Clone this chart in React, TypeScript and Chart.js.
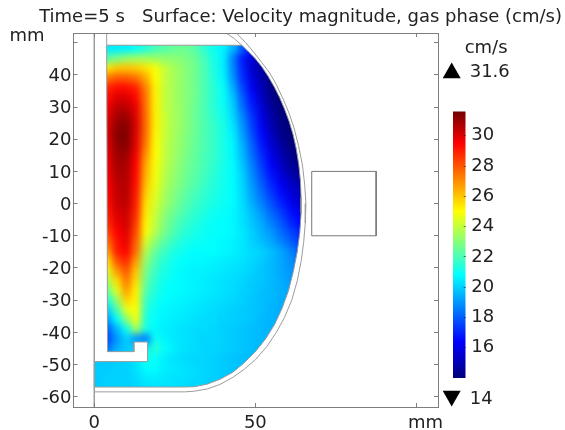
import React, { useEffect, useRef } from "react";
import { Chart, registerables } from "chart.js";

Chart.register(...registerables);

const _ = null;
const titleText = "Time=5 s   Surface: Velocity magnitude, gas phase (cm/s)";
const FONT = "'DejaVu Sans', sans-serif";
const INK = "#222";
const FRAME = "#7d7d7d";
const WALL = "#9c9c9c";

const xTicks = [0, 50, 100];
const yTicks = [50, 40, 30, 20, 10, 0, -10, -20, -30, -40, -50, -60];
const hiddenXLabels = [100];
const hiddenYLabels = [50];
const barTicks = [16, 18, 20, 22, 24, 26, 28, 30];

const heatX = [1, 4, 7, 10, 13, 16, 19, 22, 25, 28, 31, 34, 37, 40, 43, 46, 49, 52, 55, 58, 61, 64];
const heatY = [48, 45, 42, 39, 36, 33, 30, 27, 24, 21, 18, 15, 12, 9, 6, 3, 0, -3, -6, -9, -12, -15, -18, -21, -24, -27, -30, -33, -36, -39, -42, -45, -48, -51, -54, -57];
const heatRows: (number | null)[][] = [
  [_, 20.5, 20.5, 20.6, 20.9, 21.4, 21.9, 22.2, 22.5, 22.6, 22.3, 21.6, 21, 20.6, 19.6, 18, 16.5, 15],
  [_, 22.3, 22.9, 23.3, 23.5, 23.5, 23.4, 23.2, 23.1, 22.9, 22.6, 22, 21.2, 20.6, 18.6, 16.8, 15.5, 14.8, 14.2],
  [_, 25.4, 26, 26.1, 25.9, 25.5, 24.9, 24, 23.5, 23.1, 22.7, 22.1, 21.3, 20.6, 18.8, 17, 15.5, 14.7, 14.1, 14],
  [_, 27.4, 27.9, 27.9, 27.5, 26.5, 25, 24, 23.5, 23.1, 22.7, 22.1, 21.4, 20.7, 19, 17.2, 15.8, 14.8, 14.2, 14, 14],
  [_, 28.8, 29.3, 29.3, 28.9, 27.2, 25.2, 24, 23.5, 23.1, 22.7, 22.1, 21.5, 20.9, 19.4, 17.6, 16.2, 15, 14.2, 14, 14],
  [_, 29.3, 30, 30, 29.4, 27.4, 25.2, 24, 23.5, 23.1, 22.7, 22.1, 21.5, 20.9, 19.8, 18, 16.6, 15.3, 14.3, 14, 14, 14],
  [_, 29.6, 30.5, 30.5, 29.8, 27.5, 25.2, 24, 23.5, 23.1, 22.6, 22.1, 21.5, 21, 20, 18.3, 16.9, 15.6, 14.5, 14, 14, 14],
  [_, 29.8, 30.9, 31, 30, 27.6, 25.2, 24.1, 23.5, 23.1, 22.6, 22.1, 21.6, 21.1, 20.2, 18.7, 17.3, 15.9, 14.8, 14.1, 14, 14],
  [_, 30, 31.2, 31.3, 30.1, 27.6, 25.2, 24.1, 23.5, 23.1, 22.6, 22.1, 21.7, 21.2, 20.4, 19, 17.5, 16.2, 15, 14.2, 14, 14],
  [_, 30, 31.3, 31.4, 30, 27.5, 25.1, 24.1, 23.5, 23, 22.6, 22.1, 21.7, 21.2, 20.6, 19.2, 17.8, 16.5, 15.3, 14.4, 14, 14],
  [_, 29.9, 31.2, 31.3, 29.9, 27.3, 25, 24, 23.4, 23, 22.5, 22.1, 21.7, 21.2, 20.7, 19.5, 18.1, 16.8, 15.6, 14.7, 14.1, 14],
  [_, 29.8, 31, 31, 29.7, 26.9, 25, 24, 23.4, 22.9, 22.5, 22, 21.7, 21.2, 20.7, 19.6, 18.3, 17.1, 16, 15, 14.3, 14],
  [_, 29.7, 30.8, 30.8, 29.5, 26.5, 24.9, 23.9, 23.3, 22.8, 22.4, 22, 21.6, 21.2, 20.8, 19.8, 18.6, 17.4, 16.3, 15.3, 14.5, 14.2],
  [_, 29.6, 30.7, 30.7, 29.4, 26.3, 24.8, 23.8, 23.2, 22.7, 22.3, 21.9, 21.5, 21.1, 20.8, 20, 18.8, 17.7, 16.7, 15.7, 14.9, 14.5],
  [_, 29.5, 30.5, 30.6, 29.3, 26.1, 24.7, 23.7, 23.1, 22.6, 22.2, 21.8, 21.4, 21.1, 20.8, 20.1, 19, 18, 17, 16.2, 15.3, 14.8],
  [_, 29.4, 30.4, 30.6, 29.1, 25.8, 24.5, 23.5, 22.9, 22.4, 22, 21.6, 21.3, 21, 20.8, 20.2, 19.2, 18.3, 17.4, 16.6, 15.8, 15.1],
  [_, 29.3, 30.3, 30.5, 29, 25.5, 24.3, 23.4, 22.8, 22.2, 21.8, 21.5, 21.2, 21, 20.8, 20.2, 19.4, 18.6, 17.8, 17, 16.2, 15.5],
  [_, 29, 30.1, 30.3, 28.8, 25.3, 24.1, 23.1, 22.5, 22, 21.6, 21.3, 21, 20.9, 20.7, 20.3, 19.7, 19, 18.2, 17.5, 16.7, 16],
  [_, 28.7, 29.8, 30.2, 28.5, 25.1, 23.9, 22.9, 22.2, 21.7, 21.4, 21.1, 20.9, 20.8, 20.7, 20.3, 19.8, 19.3, 18.6, 17.9, 17.1, 16.5],
  [_, 28.2, 29.5, 30, 28.2, 24.9, 23.7, 22.7, 22, 21.5, 21.2, 21, 20.9, 20.8, 20.7, 20.4, 20, 19.5, 19, 18.3, 17.6, 17],
  [_, 27.4, 29.2, 29.8, 27.8, 24.3, 23, 22.2, 21.6, 21.2, 21, 20.9, 20.8, 20.7, 20.6, 20.4, 20, 19.7, 19.3, 18.7, 18.1, 17.4],
  [_, 26.5, 29, 29.5, 27.5, 23.7, 22.4, 21.7, 21.2, 21, 20.8, 20.8, 20.8, 20.7, 20.6, 20.4, 20.2, 20, 19.7, 19.3, 18.7, 18],
  [_, 25.5, 28, 28.8, 26.7, 23.2, 22, 21.4, 21, 20.8, 20.7, 20.7, 20.6, 20.5, 20.4, 20.3, 20.1, 19.9, 19.6, 19.3, 18.9, 18.4],
  [_, 24.5, 26.8, 28, 26, 22.8, 21.7, 21.2, 20.9, 20.7, 20.6, 20.6, 20.5, 20.4, 20.3, 20.2, 20, 19.8, 19.6, 19.3, 19, 18.6],
  [_, 23.5, 25.6, 27.4, 25.6, 22.5, 21.5, 21, 20.8, 20.7, 20.6, 20.5, 20.4, 20.3, 20.2, 20.1, 19.9, 19.8, 19.6, 19.4, 19.1, 18.8],
  [_, 22.5, 24.5, 26.8, 25.2, 22.2, 21.3, 20.9, 20.8, 20.7, 20.6, 20.5, 20.4, 20.3, 20.2, 20, 19.9, 19.7, 19.6, 19.4, 19.3, 19],
  [_, 21.2, 23.3, 25.8, 25.2, 21.8, 21.1, 20.8, 20.7, 20.6, 20.5, 20.4, 20.3, 20.2, 20.1, 20, 19.8, 19.7, 19.6, 19.4, 19.3, 19.1],
  [_, 20, 22, 24.5, 25, 21.5, 20.9, 20.7, 20.6, 20.5, 20.4, 20.3, 20.2, 20.1, 20, 19.9, 19.8, 19.7, 19.5, 19.4, 19.3],
  [_, 19, 20.8, 23, 24.8, 21.3, 20.8, 20.6, 20.5, 20.4, 20.3, 20.2, 20.2, 20, 20, 19.9, 19.8, 19.6, 19.5, 19.4],
  [_, 18, 19.5, 21, 23.5, 21.2, 20.7, 20.5, 20.4, 20.3, 20.2, 20.2, 20.1, 20, 19.9, 19.8, 19.7, 19.6, 19.5, 19.4],
  [_, 17.6, 19, 20, 19, 18.5, 21, 20.6, 20.4, 20.3, 20.2, 20.1, 20.1, 20, 19.9, 19.8, 19.7, 19.6, 19.5, 19.4],
  [_, 18.3, 19.4, 19.9, 20, 20.5, 21.5, 20.8, 20.5, 20.3, 20.2, 20.1, 20.1, 20, 19.9, 19.8, 19.7, 19.6, 19.5],
  [19.9, 19.9, 19.9, 20, 20.4, 21.2, 20.9, 20.5, 20.3, 20.2, 20.1, 20.1, 20, 19.9, 19.8, 19.7, 19.6, 19.5],
  [19.9, 19.9, 20, 20, 20.3, 20.8, 20.8, 20.5, 20.4, 20.3, 20.2, 20.1, 20, 19.9, 19.8, 19.8, 19.7],
  [19.9, 20, 20, 20, 20.2, 20.5, 20.5, 20.4, 20.3, 20.3, 20.2, 20.1, 20, 19.9, 19.8, 19.8],
  [19.9, 20, 20, 20, 20.1, 20.3, 20.3, 20.3, 20.3, 20.2, 20.1, 20, 19.9, 19.8, 19.8],
];

const domainX = [3.84, 45.8, 48, 50, 52, 54, 56, 57.5, 59, 60.5, 61.7, 62.7, 63.5, 64, 64.2, 64.2, 63.8, 63, 61.8, 60.3, 58.3, 56, 53.2, 50, 46.5, 43, 39, 35, 31, 28, 0, 0, 16.5, 16.5, 12.3, 12.3, 4.1, 3.84];
const domainY = [49.2, 49.2, 47, 45, 42.5, 39.5, 36, 33, 29.5, 25.5, 21.5, 17, 12, 7, 2, -3, -9, -15, -21, -27, -32.5, -37.5, -42, -46, -49.5, -52.4, -54.6, -56.1, -56.9, -57, -57, -49.1, -49.1, -43, -43, -46, -46, 49.2];
const shellX = [42, 44.2, 47, 49.5, 52, 54.5, 56.5, 58.6, 60.5, 62, 63.4, 64.6, 65.3, 65.7, 65.5, 65, 64.2, 63, 61.3, 59, 56.5, 53.5, 50, 46.5, 43, 39, 35, 31, 28, 0];
const shellY = [55, 52.9, 50, 47, 43.8, 40.5, 37, 32.5, 28, 23.5, 18, 12, 6, 0, -6, -12, -18, -24, -30, -35.5, -40, -44.5, -48.5, -51.5, -54, -56.2, -57.6, -58.3, -58.5, -58.5];
const innerTopX = [45.8, 43.5, 41.1, 39];
const innerTopY = [49.2, 51.2, 52.9, 54.3];
const axisWallX = [0, 0];
const axisWallY = [56, -65];
const tubeTopX = [3.84, 3.84];
const tubeTopY = [49.2, 56];
const boxX = [67.5, 87.5, 87.5, 67.5, 67.5];
const boxY = [10, 10, -10, -10, 10];

const minValue = 14;
const maxValue = 31.6;
const stopValues = [14, 14.8, 16.4, 20.8, 25, 29.5, 31.6];
const stopColors = [[0, 0, 120], [0, 0, 170], [0, 0, 255], [0, 255, 255], [255, 255, 0], [255, 0, 0], [115, 0, 0]];
const barX = [0.753, 0.753];
const barY = [minValue, maxValue];
const markerX = [0.455];
const maxMarkerY = [34.15];
const minMarkerY = [12.81];

function colorFor(v: number) {
  let i = 0;
  while (i < stopValues.length - 2 && v > stopValues[i + 1]) i++;
  const t = Math.min(1, Math.max(0, (v - stopValues[i]) / (stopValues[i + 1] - stopValues[i])));
  const c = stopColors[i].map((a, k) => Math.round(a + (stopColors[i + 1][k] - a) * t));
  return `rgb(${c[0]},${c[1]},${c[2]})`;
}

const pairs = (xs: number[], ys: number[]) => xs.map((x, i) => ({ x, y: ys[i] }));
const wall = (xs: number[], ys: number[], color = WALL) => ({
  type: "scatter" as const,
  data: pairs(xs, ys),
  showLine: true,
  borderColor: color,
  borderWidth: 1,
  pointRadius: 0,
  order: 1,
});

const heatCells: { x: number; y: number; v: number }[] = [];
heatRows.forEach((row, r) =>
  row.forEach((v, c) => {
    if (v !== null) heatCells.push({ x: heatX[c], y: heatY[r], v });
  })
);

const heatBlendPlugin = {
  id: "heatBlend",
  afterDatasetDraw(chart: any, args: any) {
    if (args.index !== 0) return;
    const { ctx, canvas, chartArea, scales } = chart;
    const off = document.createElement("canvas");
    off.width = canvas.width;
    off.height = canvas.height;
    off.getContext("2d")!.drawImage(canvas, 0, 0);
    ctx.save();
    ctx.clearRect(chartArea.left, chartArea.top, chartArea.width, chartArea.height);
    ctx.beginPath();
    domainX.forEach((x, i) => {
      const px = scales.x.getPixelForValue(x);
      const py = scales.y.getPixelForValue(domainY[i]);
      if (i === 0) ctx.moveTo(px, py);
      else ctx.lineTo(px, py);
    });
    ctx.closePath();
    ctx.clip();
    ctx.drawImage(off, 0, 0);
    ctx.filter = "blur(3.5px)";
    ctx.drawImage(off, 0, 0);
    ctx.restore();
  },
};

const axisTextPlugin = {
  id: "axisText",
  afterDraw(chart: any) {
    const { ctx, scales } = chart;
    ctx.save();
    ctx.fillStyle = INK;
    ctx.font = `18px ${FONT}`;
    ctx.textAlign = "center";
    ctx.textBaseline = "middle";
    ctx.fillText("mm", 27, scales.y.getPixelForValue(50) - 6);
    ctx.fillText("mm", scales.x.getPixelForValue(100) + 9, 423);
    ctx.restore();
  },
};

const barTextPlugin = {
  id: "barText",
  beforeDatasetsDraw(chart: any) {
    const ya = chart.scales.y;
    const g = chart.ctx.createLinearGradient(0, ya.getPixelForValue(minValue), 0, ya.getPixelForValue(maxValue));
    stopValues.forEach((v) => g.addColorStop((v - minValue) / (maxValue - minValue), colorFor(v)));
    chart.getDatasetMeta(0).dataset.options.borderColor = g;
  },
  afterDraw(chart: any) {
    const { ctx, scales } = chart;
    const px = scales.x.getPixelForValue(markerX[0]);
    ctx.save();
    ctx.fillStyle = INK;
    ctx.font = `18px ${FONT}`;
    ctx.textAlign = "left";
    ctx.textBaseline = "middle";
    ctx.fillText("cm/s", px + 13, scales.y.getPixelForValue(maxMarkerY[0]) - 25);
    ctx.fillText(String(maxValue), px + 18, scales.y.getPixelForValue(maxMarkerY[0]) - 1);
    ctx.fillText(String(minValue), px + 18, scales.y.getPixelForValue(minMarkerY[0]) + 3);
    ctx.restore();
  },
};

const innerTicks = (length: number) => ({
  color: FRAME,
  drawOnChartArea: false,
  drawTicks: true,
  tickLength: length,
  z: 1,
});
const frameBorder = { color: FRAME, width: 1, z: 1 };

export default function App() {
  const mainRef = useRef<HTMLCanvasElement>(null);
  const barRef = useRef<HTMLCanvasElement>(null);

  useEffect(() => {
    const main = new Chart(mainRef.current!, {
      type: "scatter",
      data: {
        datasets: [
          {
            data: heatCells as any,
            pointStyle: "rect",
            pointRadius: 7,
            pointBorderWidth: 0,
            backgroundColor: heatCells.map((c) => colorFor(c.v)),
            order: 5,
          } as any,
          wall(domainX, domainY),
          wall(shellX, shellY),
          wall(innerTopX, innerTopY),
          wall(axisWallX, axisWallY),
          wall(tubeTopX, tubeTopY),
          wall(boxX, boxY, "#777"),
        ],
      },
      options: {
        animation: false,
        responsive: false,
        layout: { padding: 0, autoPadding: false },
        plugins: {
          legend: { display: false },
          tooltip: { enabled: false },
          title: {
            display: true,
            text: titleText,
            align: "end",
            color: INK,
            font: { family: FONT, size: 18, weight: "normal" },
            padding: { top: 6.5, bottom: 0 },
          },
        },
        scales: {
          x: {
            type: "linear",
            position: "bottom",
            min: -6.46,
            max: 106.7,
            afterBuildTicks: (s: any) => { s.ticks = xTicks.map((value) => ({ value })); },
            afterFit: (s: any) => { s.height = 23; },
            grid: innerTicks(-4),
            border: frameBorder,
            ticks: {
              autoSkip: false,
              maxRotation: 0,
              padding: 10,
              color: INK,
              font: { family: FONT, size: 18 },
              callback: (v: any) => (hiddenXLabels.includes(v) ? "" : String(v)),
            },
          },
          x2: {
            type: "linear",
            axis: "x",
            position: "top",
            min: -6.46,
            max: 106.7,
            afterBuildTicks: (s: any) => { s.ticks = xTicks.map((value) => ({ value })); },
            afterFit: (s: any) => { s.height = 4.9; },
            grid: innerTicks(-4),
            border: frameBorder,
            ticks: { display: false },
          },
          y: {
            type: "linear",
            position: "left",
            min: -63.2,
            max: 53,
            afterBuildTicks: (s: any) => { s.ticks = yTicks.map((value) => ({ value })); },
            afterFit: (s: any) => { s.width = 73.5; },
            grid: innerTicks(-4),
            border: frameBorder,
            ticks: {
              autoSkip: false,
              padding: 6,
              labelOffset: 1.5,
              color: INK,
              font: { family: FONT, size: 18 },
              callback: (v: any) => (hiddenYLabels.includes(v) ? "" : String(v)),
            },
          },
          y2: {
            type: "linear",
            axis: "y",
            position: "right",
            min: -63.2,
            max: 53,
            afterBuildTicks: (s: any) => { s.ticks = yTicks.map((value) => ({ value })); },
            afterFit: (s: any) => { s.width = 124; },
            grid: innerTicks(-4),
            border: frameBorder,
            ticks: { display: false },
          },
        },
      } as any,
      plugins: [heatBlendPlugin, axisTextPlugin],
    });

    const bar = new Chart(barRef.current!, {
      type: "scatter",
      data: {
        datasets: [
          {
            data: pairs(barX, barY),
            showLine: true,
            borderWidth: 12.7,
            borderCapStyle: "butt",
            borderColor: "#000",
            pointRadius: 0,
          } as any,
          {
            data: pairs(markerX, maxMarkerY),
            pointStyle: "triangle",
            pointRadius: 10.4,
            backgroundColor: "#000",
            pointBorderWidth: 0,
          } as any,
          {
            data: pairs(markerX, minMarkerY),
            pointStyle: "triangle",
            pointRotation: 180,
            pointRadius: 10.4,
            backgroundColor: "#000",
            pointBorderWidth: 0,
          } as any,
        ],
      },
      options: {
        animation: false,
        responsive: false,
        layout: { padding: 0, autoPadding: false },
        plugins: { legend: { display: false }, tooltip: { enabled: false }, title: { display: false } },
        scales: {
          x: { type: "linear", display: false, min: 0, max: 1 },
          y: {
            type: "linear",
            position: "right",
            min: 10.565,
            max: 38.97,
            afterBuildTicks: (s: any) => { s.ticks = barTicks.map((value) => ({ value })); },
            beforeFit: (s: any) => {
              s._calculatePadding = () => {
                s.paddingTop = 0;
                s.paddingBottom = 0;
                s.paddingLeft = 0;
                s.paddingRight = 0;
              };
            },
            afterFit: (s: any) => { s.width = 99.3; },
            grid: { color: "rgba(30,30,30,0.55)", drawOnChartArea: false, tickLength: -2, z: 1 },
            border: { display: false },
            ticks: {
              autoSkip: false,
              padding: 7.5,
              color: INK,
              font: { family: FONT, size: 18 },
            },
          },
        },
      } as any,
      plugins: [barTextPlugin],
    });

    return () => {
      main.destroy();
      bar.destroy();
    };
  }, []);

  return (
    <div style={{ position: "absolute", left: 0, top: 0, width: 565, height: 430, overflow: "hidden", background: "#fff" }}>
      <canvas ref={mainRef} width={562} height={430} style={{ position: "absolute", left: 0, top: 0 }} />
      <canvas ref={barRef} width={125} height={430} style={{ position: "absolute", left: 440, top: 0 }} />
    </div>
  );
}
